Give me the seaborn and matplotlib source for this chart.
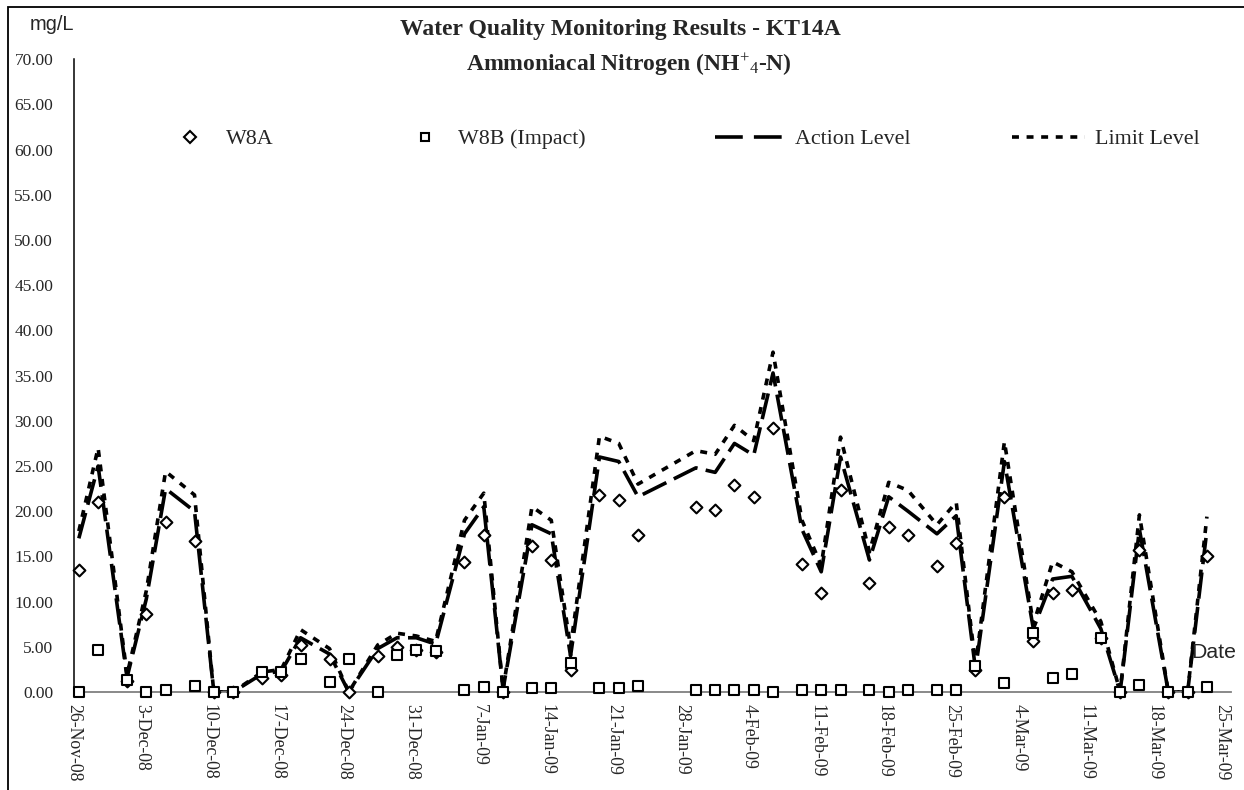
import numpy as np
import pandas as pd
import matplotlib
matplotlib.use("Agg")
import matplotlib.pyplot as plt
from matplotlib.patches import Rectangle
from matplotlib.lines import Line2D
from matplotlib import font_manager
import seaborn as sns

# ---- monitoring data (mg/L) ----
sample_dates = [
    "2008-11-26", "2008-11-28", "2008-12-01", "2008-12-03", "2008-12-05",
    "2008-12-08", "2008-12-10", "2008-12-12", "2008-12-15", "2008-12-17",
    "2008-12-19", "2008-12-22", "2008-12-24", "2008-12-27", "2008-12-29",
    "2008-12-31", "2009-01-02", "2009-01-05", "2009-01-07", "2009-01-09",
    "2009-01-12", "2009-01-14", "2009-01-16", "2009-01-19", "2009-01-21",
    "2009-01-23", "2009-01-29", "2009-01-31", "2009-02-02", "2009-02-04",
    "2009-02-06", "2009-02-09", "2009-02-11", "2009-02-13", "2009-02-16",
    "2009-02-18", "2009-02-20", "2009-02-23", "2009-02-25", "2009-02-27",
    "2009-03-02", "2009-03-05", "2009-03-07", "2009-03-09", "2009-03-12",
    "2009-03-14", "2009-03-16", "2009-03-19", "2009-03-21", "2009-03-23",
]
w8a = [
    13.5, 21.0, 1.2, 8.6, 18.8, 16.7, 0.0, 0.0, 1.6, 1.9,
    5.2, 3.6, 0.0, 4.0, 5.0, 4.7, 4.4, 14.4, 17.4, 0.0,
    16.1, 14.6, 2.4, 21.8, 21.2, 17.4, 20.5, 20.1, 22.9, 21.6,
    29.2, 14.2, 11.0, 22.4, 12.1, 18.2, 17.4, 13.9, 16.5, 2.4,
    21.6, 5.6, 11.0, 11.3, 6.0, 0.0, 15.7, 0.0, 0.0, 15.0,
]
w8b = [
    0.0, 4.7, 1.3, 0.0, 0.2, 0.7, 0.0, 0.0, 2.2, 2.2,
    3.6, 1.1, 3.7, 0.0, 4.1, 4.7, 4.5, 0.2, 0.5, 0.0,
    0.4, 0.4, 3.2, 0.4, 0.4, 0.7, 0.2, 0.2, 0.2, 0.2,
    0.0, 0.2, 0.2, 0.2, 0.2, 0.0, 0.2, 0.2, 0.2, 2.9,
    1.0, 6.5, 1.5, 2.0, 6.0, 0.0, 0.8, 0.0, 0.0, 0.6,
]
action_level = [
    17.0, 25.0, 1.6, 10.3, 22.5, 20.0, 0.0, 0.0, 2.0, 2.3,
    6.0, 4.2, 0.0, 4.8, 6.0, 6.0, 5.3, 17.5, 20.5, 0.3,
    18.5, 17.5, 4.0, 26.0, 25.5, 21.6, 24.8, 24.3, 27.5, 26.2,
    35.3, 18.0, 13.3, 26.0, 14.6, 21.6, 20.0, 17.5, 19.5, 2.5,
    25.5, 7.0, 12.5, 12.8, 7.0, 0.0, 18.0, 0.0, 0.0, 17.9,
]
limit_level = [
    17.8, 27.0, 1.9, 11.2, 24.4, 21.8, 0.0, 0.0, 2.2, 2.5,
    6.9, 4.8, 0.0, 5.2, 6.5, 6.2, 5.6, 19.0, 22.0, 0.3,
    20.5, 19.0, 5.0, 28.3, 27.5, 23.0, 26.7, 26.3, 29.5, 27.8,
    37.6, 19.0, 14.0, 28.2, 15.5, 23.2, 22.3, 18.5, 21.0, 3.0,
    27.7, 7.5, 14.4, 13.3, 7.8, 0.0, 19.6, 0.0, 0.0, 19.4,
]
series_labels = ["W8A", "W8B (Impact)", "Action Level", "Limit Level"]
y_ticks = [0, 5, 10, 15, 20, 25, 30, 35, 40, 45, 50, 55, 60, 65, 70]
x_tick_dates = pd.date_range("2008-11-26", "2009-03-25", freq="7D")
x_tick_labels = [f"{d.day}-{d:%b-%y}" for d in x_tick_dates]

# ---- style ----
sns.set_style("white")
plt.rcParams["font.family"] = ["Liberation Serif", "DejaVu Serif"]
plt.rcParams["mathtext.fontset"] = "custom"
plt.rcParams["mathtext.rm"] = "Liberation Serif"
plt.rcParams["mathtext.it"] = "Liberation Serif:italic"
plt.rcParams["mathtext.bf"] = "Liberation Serif:bold"
plt.rcParams["lines.scale_dashes"] = False

installed = {f.name for f in font_manager.fontManager.ttflist}
narrow = "Liberation Sans Narrow" in installed
sans_family = ["Liberation Sans Narrow", "Liberation Sans"] if narrow else ["Liberation Sans"]
sans_scale = 1.0 if narrow else 0.85

W, H = 1244, 790
fig = plt.figure(figsize=(W / 100, H / 100), dpi=100)
fig.patch.set_facecolor("white")


def fx(px):
    return px / W


def fy(py):
    return 1 - py / H


ax = fig.add_axes([fx(74), fy(692), fx(1231) - fx(74), fy(59.3) - fy(692)])
ax.set_facecolor("white")

# samples are plotted at midday of each sampling date
df = pd.DataFrame({
    "date": pd.to_datetime(sample_dates) + pd.Timedelta(hours=12),
    "w8a": w8a,
    "w8b": w8b,
    "action": action_level,
    "limit": limit_level,
})

LW = 2.6
ACTION_DASH = [19, 6]
LIMIT_DASH = [5, 5.5]
S_DIAMOND = 36
S_SQUARE = 50
MEW = 1.5

sns.lineplot(data=df, x="date", y="action", ax=ax, color="black", lw=LW,
             estimator=None, sort=False, zorder=2)
ax.lines[-1].set_dashes(ACTION_DASH)
sns.lineplot(data=df, x="date", y="limit", ax=ax, color="black", lw=LW,
             estimator=None, sort=False, zorder=2)
ax.lines[-1].set_dashes(LIMIT_DASH)

sns.scatterplot(data=df, x="date", y="w8a", ax=ax, marker="D", s=S_DIAMOND,
                color="white", edgecolor="black", linewidth=MEW,
                zorder=3, clip_on=False)
sns.scatterplot(data=df, x="date", y="w8b", ax=ax, marker="s", s=S_SQUARE,
                color="white", edgecolor="black", linewidth=MEW,
                zorder=4, clip_on=False)

# ---- axes ----
ax.set_xlim(pd.Timestamp("2008-11-26"), pd.Timestamp("2009-03-26"))
ax.set_ylim(0, 70)
ax.set_yticks(y_ticks)
ax.set_yticklabels([f"{v:.2f}" for v in y_ticks], fontsize=12.5)
ax.set_xticks(x_tick_dates)
ax.set_xticklabels(x_tick_labels, rotation=-90, fontsize=12.8,
                   ha="center", va="top")
ax.tick_params(axis="y", direction="in", length=5, width=1, pad=15,
               color="black")
ax.tick_params(axis="x", direction="in", length=5, width=1, pad=9,
               color="#808080")
ax.set_xlabel("")
ax.set_ylabel("")
for side in ("top", "right"):
    ax.spines[side].set_visible(False)
ax.spines["left"].set_color("black")
ax.spines["left"].set_linewidth(1.1)
ax.spines["bottom"].set_color("#808080")
ax.spines["bottom"].set_linewidth(1.3)
ax.grid(False)
if ax.get_legend() is not None:
    ax.get_legend().remove()

# ---- legend (one entry per slot across the top) ----
LEG_FS = 15.8
em = LEG_FS * 100 / 72
legend_handles = [
    Line2D([], [], ls="none", marker="D", ms=np.sqrt(S_DIAMOND), mfc="white",
           mec="black", mew=MEW),
    Line2D([], [], ls="none", marker="s", ms=np.sqrt(S_SQUARE) * 0.85,
           mfc="white", mec="black", mew=MEW),
    Line2D([], [], color="black", lw=LW, dashes=[20, 8]),
    Line2D([], [], color="black", lw=LW, dashes=LIMIT_DASH),
]
# (handle start px, handle length px, text start px)
slots = [(178, 23, 226), (413, 23, 458), (715, 70, 795), (1012, 73, 1095)]
for h, lab, (x0, hl, tx) in zip(legend_handles, series_labels, slots):
    fig.legend(handles=[h], labels=[lab], loc="center left",
               bbox_to_anchor=(fx(x0), fy(139)), bbox_transform=fig.transFigure,
               frameon=False, borderpad=0, borderaxespad=0,
               handlelength=hl / em, handletextpad=(tx - x0 - hl) / em,
               fontsize=LEG_FS)

# ---- titles and axis captions ----
fig.text(fx(620), fy(30), "Water Quality Monitoring Results - KT14A",
         ha="center", va="center", fontsize=17, fontweight="bold")
fig.text(fx(629), fy(65), r"Ammoniacal Nitrogen (NH$^{+}$$_{4}$-N)",
         ha="center", va="center", fontsize=17, fontweight="bold")
fig.text(fx(52), fy(24), "mg/L", ha="center", va="center",
         family=sans_family, fontsize=17 * sans_scale)
fig.text(fx(1214), fy(652), "Date", ha="center", va="center",
         family=sans_family, fontsize=18 * sans_scale)

# chart area border
fig.add_artist(Rectangle((fx(8), -0.1), 1.5, fy(7) + 0.1,
                         transform=fig.transFigure, fill=False,
                         edgecolor="black", lw=1.3))

fig.savefig("out.png", dpi=100, facecolor="white")
